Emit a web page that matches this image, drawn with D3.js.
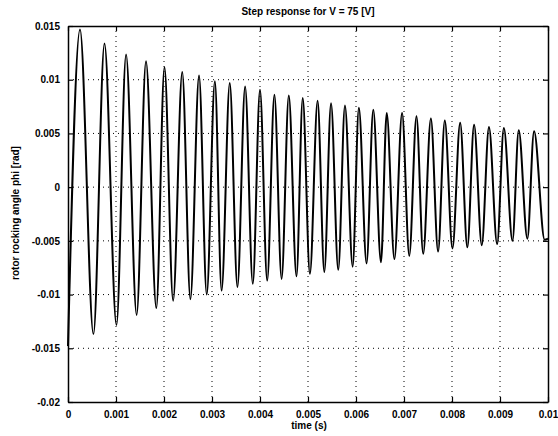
<!DOCTYPE html>
<html>
<head>
<meta charset="utf-8">
<script src="https://cdn.jsdelivr.net/npm/d3@7"></script>
<style>
  body { margin: 0; background: #fff; }
  text { font-family: "Liberation Sans", Arial, sans-serif; font-weight: bold; fill: #000; }
</style>
</head>
<body>
<svg></svg>
<script>
// extrema of the oscillation (time [s], angle [rad])
let times = [0, 0.00025, 0.00053, 0.00076, 0.00101, 0.00121, 0.00143, 0.001625, 0.00184, 0.00201,
  0.00219, 0.00238, 0.00255, 0.00273, 0.00289, 0.00306, 0.0032, 0.00337, 0.00353, 0.00369,
  0.00385, 0.004, 0.00415, 0.0043, 0.00445, 0.0046, 0.00476, 0.00489, 0.00504, 0.0052,
  0.00534, 0.00548, 0.00563, 0.00577, 0.00593, 0.00606, 0.00622, 0.00636, 0.00652, 0.00664,
  0.0068, 0.00696, 0.00711, 0.00726, 0.0074, 0.00756, 0.00771, 0.00785, 0.00801, 0.00817,
  0.00832, 0.00846, 0.00862, 0.00877, 0.00894, 0.00908, 0.00926, 0.00939, 0.00957, 0.00971,
  0.00993, 0.01]
let angles = [-0.0148, 0.01468, -0.01368, 0.01337, -0.01284, 0.01234, -0.0119, 0.01172, -0.01125, 0.01116,
  -0.01057, 0.01072, -0.01043, 0.0104, -0.0100, 0.00985, -0.00963, 0.0097, -0.0093, 0.00938,
  -0.0090, 0.00907, -0.0087, 0.0086, -0.00854, 0.00854, -0.0083, 0.0083, -0.00807, 0.00804,
  -0.0079, 0.0078, -0.0077, 0.0076, -0.0074, 0.0074, -0.0071, 0.0072, -0.0070, 0.0069,
  -0.0067, 0.0069, -0.0064, 0.0066, -0.0062, 0.0064, -0.0060, 0.0062, -0.0057, 0.0060,
  -0.0056, 0.0058, -0.0054, 0.0056, -0.0053, 0.0055, -0.0050, 0.0053, -0.0048, 0.0052,
  -0.0049, -0.0048]

let xTicks = [0, 0.001, 0.002, 0.003, 0.004, 0.005, 0.006, 0.007, 0.008, 0.009, 0.01]
let xTickLabels = ['0', '0.001', '0.002', '0.003', '0.004', '0.005', '0.006', '0.007', '0.008', '0.009', '0.01']
let yTicks = [-0.02, -0.015, -0.01, -0.005, 0, 0.005, 0.01, 0.015]
let yTickLabels = ['-0.02', '-0.015', '-0.01', '-0.005', '0', '0.005', '0.01', '0.015']

let w = 558
let h = 436
let pl = 68, pr = 548, pt = 26, pb = 402

let svg = d3.select('svg').attr('width', w).attr('height', h)

let xScale = d3.scaleLinear().domain([0, 0.01]).range([pl, pr])
let yScale = d3.scaleLinear().domain([-0.02, 0.015]).range([pb, pt])

// dotted grid
svg.append('g')
   .selectAll('line')
   .data(xTicks.slice(1, -1))
   .enter()
   .append('line')
   .attr('x1', d => xScale(d)).attr('x2', d => xScale(d))
   .attr('y1', pt).attr('y2', pb)
   .attr('stroke', '#000').attr('stroke-width', 1).attr('stroke-dasharray', '1,4')
svg.append('g')
   .selectAll('line')
   .data(yTicks.slice(1, -1))
   .enter()
   .append('line')
   .attr('y1', d => yScale(d)).attr('y2', d => yScale(d))
   .attr('x1', pl).attr('x2', pr)
   .attr('stroke', '#000').attr('stroke-width', 1).attr('stroke-dasharray', '1,4')

// the response curve
let line = d3.line()
  .x((d, i) => xScale(times[i]))
  .y(d => yScale(d))
  .curve(d3.curveMonotoneX)

svg.append('path')
   .datum(angles)
   .attr('d', line)
   .attr('fill', 'none')
   .attr('stroke', '#000')
   .attr('stroke-width', 2)

// axes, ticks inside like matlab
let xAxis = d3.axisBottom(xScale).tickValues(xTicks)
  .tickFormat((d, i) => xTickLabels[i]).tickSizeInner(-5).tickSizeOuter(0).tickPadding(9)
let yAxis = d3.axisLeft(yScale).tickValues(yTicks)
  .tickFormat((d, i) => yTickLabels[i]).tickSizeInner(-5).tickSizeOuter(0).tickPadding(8)

svg.append('g').attr('transform', 'translate(0,' + pb + ')').call(xAxis)
svg.append('g').attr('transform', 'translate(' + pl + ',0)').call(yAxis)
svg.append('g').attr('transform', 'translate(0,' + pt + ')')
   .call(d3.axisTop(xScale).tickValues(xTicks).tickFormat('').tickSizeInner(-5).tickSizeOuter(0))
svg.append('g').attr('transform', 'translate(' + pr + ',0)')
   .call(d3.axisRight(yScale).tickValues(yTicks).tickFormat('').tickSizeInner(-5).tickSizeOuter(0))

svg.selectAll('.domain').attr('stroke', '#000').attr('stroke-width', 1.5)
svg.selectAll('.tick line').attr('stroke', '#000').attr('stroke-width', 1.2)
svg.selectAll('.tick text').style('font-size', '10px').style('font-family', '"Liberation Sans", Arial, sans-serif').style('font-weight', 'bold')

// titles
svg.append('text').attr('x', 308).attr('y', 15).attr('text-anchor', 'middle')
   .style('font-size', '10px').text('Step response for V = 75 [V]')
svg.append('text').attr('x', 309).attr('y', 429).attr('text-anchor', 'middle')
   .style('font-size', '10px').text('time (s)')
svg.append('text').attr('transform', 'translate(19,' + 213 + ') rotate(-90)').attr('text-anchor', 'middle')
   .style('font-size', '10px').text('rotor rocking angle phi [rad]')
</script>
</body>
</html>
